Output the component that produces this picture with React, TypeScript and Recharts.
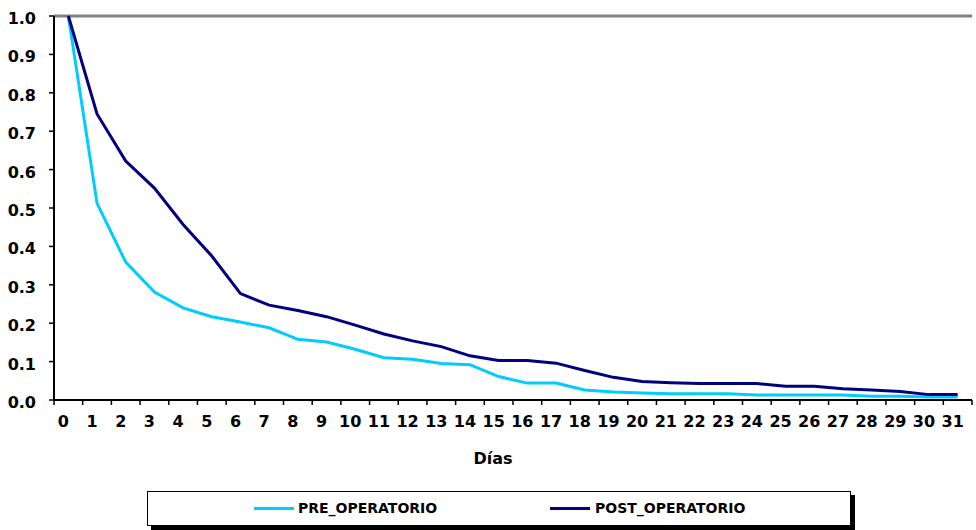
import { LineChart, Line, XAxis, YAxis, ReferenceLine, Legend, Label } from 'recharts';

const DAYS = [0, 1, 2, 3, 4, 5, 6, 7, 8, 9, 10, 11, 12, 13, 14, 15, 16, 17, 18, 19, 20, 21, 22, 23, 24, 25, 26, 27, 28, 29, 30, 31];

const PRE_OPERATORIO = [
  1.0, 0.512, 0.359, 0.281, 0.24, 0.217, 0.203, 0.188, 0.158, 0.151, 0.132, 0.11, 0.106, 0.095, 0.092, 0.061,
  0.044, 0.044, 0.026, 0.021, 0.018, 0.016, 0.016, 0.016, 0.013, 0.013, 0.013, 0.013, 0.01, 0.01, 0.008, 0.008,
];

const POST_OPERATORIO = [
  1.0, 0.745, 0.622, 0.552, 0.457, 0.375, 0.277, 0.247, 0.233, 0.217, 0.195, 0.172, 0.154, 0.139, 0.115, 0.103,
  0.103, 0.096, 0.077, 0.059, 0.048, 0.045, 0.043, 0.043, 0.043, 0.036, 0.036, 0.029, 0.026, 0.022, 0.014, 0.014,
];

const Y_TICKS = [0, 0.1, 0.2, 0.3, 0.4, 0.5, 0.6, 0.7, 0.8, 0.9, 1.0];

const SERIES = [
  { key: 'pre', name: 'PRE_OPERATORIO', color: '#00CCFF' },
  { key: 'post', name: 'POST_OPERATORIO', color: '#000080' },
];

const data = DAYS.map((day, i) => ({ day, pre: PRE_OPERATORIO[i], post: POST_OPERATORIO[i] }));

const WIDTH = 976;
const HEIGHT = 530;
const MARGIN = { top: 16, right: 4, left: 0, bottom: 100 };
const Y_WIDTH = 54;
const FONT = '"DejaVu Sans", Verdana, sans-serif';
// half the width of one day's slot, used to put the x tick marks between days
const HALF_BAND = (WIDTH - MARGIN.left - MARGIN.right - Y_WIDTH) / DAYS.length / 2;

function XTick(props: any) {
  const { x, y, payload, index } = props;
  return (
    <g>
      <line x1={x - HALF_BAND} x2={x - HALF_BAND} y1={y} y2={y + 5} stroke="#000" strokeWidth={1.5} />
      {index === DAYS.length - 1 && (
        <line x1={x + HALF_BAND} x2={x + HALF_BAND} y1={y} y2={y + 5} stroke="#000" strokeWidth={1.5} />
      )}
      <text x={x - 5} y={y + 27} textAnchor="middle" fontFamily={FONT} fontWeight="bold" fontSize={16} fill="#000">
        {payload.value}
      </text>
    </g>
  );
}

function YTick(props: any) {
  const { x, y, payload } = props;
  return (
    <text x={x} y={y + 8} textAnchor="end" fontFamily={FONT} fontWeight="bold" fontSize={16} fill="#000">
      {Number(payload.value).toFixed(1)}
    </text>
  );
}

function DaysLabel(props: any) {
  const { viewBox } = props;
  return (
    <text
      x={viewBox.x + viewBox.width / 2 - 20}
      y={viewBox.y + 64}
      textAnchor="middle"
      fontFamily={FONT}
      fontWeight="bold"
      fontSize={16}
      fill="#000"
    >
      Días
    </text>
  );
}

function LegendBox() {
  const items = [
    { ...SERIES[0], lineLeft: 106, textLeft: 150 },
    { ...SERIES[1], lineLeft: 402, textLeft: 447 },
  ];
  return (
    <div
      style={{
        position: 'relative',
        width: '100%',
        height: '100%',
        boxSizing: 'border-box',
        border: '1.5px solid #000',
        background: '#fff',
        boxShadow: '4px 4px 0 #000',
        fontFamily: FONT,
      }}
    >
      {items.map((it) => (
        <div key={it.key}>
          <div
            style={{ position: 'absolute', left: it.lineLeft, top: 15, width: 40, height: 3, background: it.color }}
          />
          <span
            style={{
              position: 'absolute',
              left: it.textLeft,
              top: 8,
              fontSize: 14,
              fontWeight: 'bold',
              color: '#000',
              whiteSpace: 'nowrap',
            }}
          >
            {it.name}
          </span>
        </div>
      ))}
    </div>
  );
}

export default function App() {
  return (
    <div style={{ position: 'absolute', left: 0, top: 0, width: WIDTH, height: HEIGHT, background: '#fff' }}>
      <LineChart width={WIDTH} height={HEIGHT} data={data} margin={MARGIN}>
        <XAxis
          dataKey="day"
          type="number"
          domain={[-0.5, DAYS.length - 0.5]}
          ticks={DAYS}
          interval={0}
          height={30}
          tickSize={0}
          tickMargin={0}
          tickLine={false}
          axisLine={{ stroke: '#000', strokeWidth: 2 }}
          tick={<XTick />}
        >
          <Label content={<DaysLabel />} />
        </XAxis>
        <YAxis
          domain={[0, 1]}
          ticks={Y_TICKS}
          width={Y_WIDTH}
          tickSize={5}
          tickMargin={13}
          tickLine={{ stroke: '#000', strokeWidth: 1.5 }}
          axisLine={{ stroke: '#000', strokeWidth: 2 }}
          tick={<YTick />}
        />
        <ReferenceLine y={1} stroke="#808080" strokeWidth={3} />
        {SERIES.map((s) => (
          <Line
            key={s.key}
            type="linear"
            dataKey={s.key}
            name={s.name}
            stroke={s.color}
            strokeWidth={3}
            dot={false}
            activeDot={false}
            isAnimationActive={false}
          />
        ))}
        <Legend
          layout="horizontal"
          verticalAlign="middle"
          align="center"
          content={<LegendBox />}
          wrapperStyle={{ left: 147, top: 491, width: 704, height: 35 }}
        />
      </LineChart>
    </div>
  );
}
